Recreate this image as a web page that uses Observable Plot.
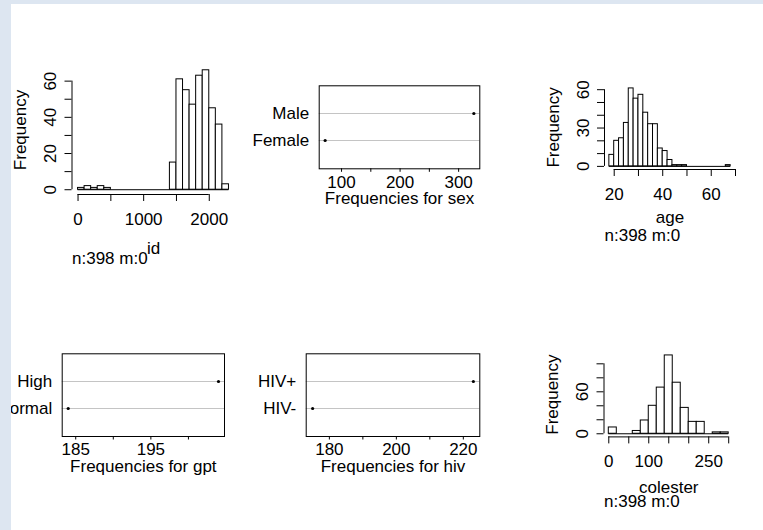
<!DOCTYPE html>
<html><head><meta charset="utf-8">
<script src="https://cdn.jsdelivr.net/npm/d3@7"></script>
<script src="https://cdn.jsdelivr.net/npm/@observablehq/plot@0.6"></script>
<style>
html,body{margin:0;padding:0;background:#fff;}
#wrap{position:relative;width:763px;height:530px;overflow:hidden;background:#fff;}
#wrap svg{position:absolute;left:0;top:0;}
.band{position:absolute;background:#dde6f1;z-index:10;}
</style></head><body>
<div id="wrap">
<div class="band" style="left:0;top:0;width:763px;height:4px"></div>
<div class="band" style="left:0;top:0;width:11px;height:530px"></div>
</div>
<script>
// ---------- data ----------
const idBreaks = [0,100,200,300,400,500,600,700,800,900,1000,1100,1200,1300,1400,1500,1600,1700,1800,1900,2000,2100,2200,2300];
const idCounts = [1,2,1,2,1,0,0,0,0,0,0,0,0,0,15,61,55,47,63,66,45,36,3];
const idXTicks = [0,500,1000,1500,2000];
const idXLabels = [0,1000,2000];
const idYTicks = [0,10,20,30,40,50,60];
const idYLabels = [0,20,40,60];

const ageBreaks = [18,20,22,24,26,28,30,32,34,36,38,40,42,44,46,48,50,52,54,56,58,60,62,64,66,68];
const ageCounts = [9,20,22,34,61,53,56,42,33,33,14,12,5,1,1,1,0,0,0,0,0,0,0,0,1];
const ageXTicks = [20,30,40,50,60,70];
const ageXLabels = [20,40,60];
const ageYTicks = [0,10,20,30,40,50,60];
const ageYLabels = [0,30,60];

const colBreaks = [0,20,40,60,80,100,120,140,160,180,200,220,240,260,280,300];
const colCounts = [9,0,0,4,19,40,66,112,73,37,17,17,0,2,2];
const colXTicks = [0,50,100,150,200,250,300];
const colXLabels = [0,100,250];
const colYTicks = [0,20,40,60,80,100];
const colYLabels = [0,60];

const sexLevels = ["Male","Female"];
const sexCounts = [326,72];
const sexTicks = [100,150,200,250,300];
const sexLabels = [100,200,300];

const gptLevels = ["High","Normal"];
const gptCounts = [204,184];
const gptTicks = [185,190,195,200];
const gptLabels = [185,195];

const hivLevels = ["HIV+","HIV-"];
const hivCounts = [223,175];
const hivTicks = [180,190,200,210,220];
const hivLabels = [180,200,220];

const nText = "n:398 m:0";

// ---------- drawing ----------
const W = 763, H = 530;
const STYLE = {fontFamily: '"Liberation Sans", Arial, sans-serif', fontSize: "17px", background: "transparent", color: "black", overflow: "visible"};
function ext(lo, hi){ const d = (hi - lo) * 0.04; return [lo - d, hi + d]; }

function histPanel(p){
  const bins = p.counts.map((c, i) => ({x1: p.breaks[i], x2: p.breaks[i + 1], y0: 0, c}));
  const xd = ext(p.breaks[0], p.breaks[p.breaks.length - 1]);
  const yd = ext(0, d3.max(p.counts));
  return Plot.plot({
    width: W, height: H,
    marginLeft: p.left, marginRight: W - p.right, marginTop: p.top, marginBottom: H - p.bottom,
    style: STYLE,
    x: {domain: xd, axis: null, label: null},
    y: {domain: yd, axis: null, label: null},
    marks: [
      Plot.rect(bins, {x1: "x1", x2: "x2", y1: "y0", y2: "c", fill: "white", stroke: "black", inset: 0}),
      Plot.ruleY([0], {x1: () => p.breaks[0], x2: () => p.breaks[p.breaks.length - 1], stroke: "black"}),
      Plot.ruleY([yd[0]], {x1: () => p.xTicks[0], x2: () => p.xTicks[p.xTicks.length - 1], stroke: "black"}),
      Plot.ruleX([xd[0]], {y1: () => p.yTicks[0], y2: () => p.yTicks[p.yTicks.length - 1], stroke: "black"}),
      Plot.axisX(p.xTicks, {tickSize: 7, tickPadding: 11, label: null, tickFormat: d => p.xLabels.includes(d) ? String(d) : ""}),
      Plot.axisY(p.yTicks, {tickSize: 7, label: null, tickFormat: () => ""}),
      Plot.text(p.yLabels, {y: d => d, text: d => String(d), frameAnchor: "left", rotate: -90, dx: -16, lineAnchor: "bottom", textAnchor: "middle"}),
      Plot.text(["Frequency"], {frameAnchor: "left", rotate: -90, dx: -46, lineAnchor: "bottom", textAnchor: "middle"}),
      Plot.text([p.xlab], {frameAnchor: "bottom", dy: p.labDy, lineAnchor: "bottom"}),
      Plot.text([nText], {frameAnchor: "bottom-left", textAnchor: "start", dy: p.nDy, lineAnchor: "bottom"})
    ]
  });
}

function dotPanel(p){
  const data = p.levels.map((k, i) => ({k, v: p.counts[i]}));
  const xd = ext(d3.min(p.counts), d3.max(p.counts));
  return Plot.plot({
    width: W, height: H,
    marginLeft: p.left, marginRight: W - p.right, marginTop: p.top, marginBottom: H - p.bottom,
    style: STYLE,
    x: {domain: xd, axis: null, label: null},
    y: {type: "point", domain: p.levels, padding: 1, axis: null, label: null},
    marks: [
      Plot.ruleY(data, {y: "k", stroke: "#c4c4c4"}),
      Plot.frame({stroke: "black"}),
      Plot.dot(data, {x: "v", y: "k", r: 1.6, fill: "black", stroke: null}),
      Plot.axisY({tickSize: 0, tickPadding: 10, label: null}),
      Plot.axisX(p.ticks, {tickSize: 3.5, tickPadding: 3.2, label: null, tickFormat: d => p.labels.includes(d) ? String(d) : ""}),
      Plot.text([p.title], {frameAnchor: "bottom", dy: 35, lineAnchor: "bottom"})
    ]
  });
}

const wrap = document.getElementById("wrap");
const panels = [
  histPanel({breaks: idBreaks, counts: idCounts, xTicks: idXTicks, xLabels: idXLabels, yTicks: idYTicks, yLabels: idYLabels,
    xlab: "id", left: 71.5, right: 234.5, top: 65, bottom: 194, labDy: 59, nDy: 69}),
  histPanel({breaks: ageBreaks, counts: ageCounts, xTicks: ageXTicks, xLabels: ageXLabels, yTicks: ageYTicks, yLabels: ageYLabels,
    xlab: "age", left: 604, right: 735, top: 84.8, bottom: 169, labDy: 53, nDy: 71}),
  histPanel({breaks: colBreaks, counts: colCounts, xTicks: colXTicks, xLabels: colXLabels, yTicks: colYTicks, yLabels: colYLabels,
    xlab: "colester", left: 603.5, right: 733, top: 351.8, bottom: 436.4, labDy: 56, nDy: 70}),
  dotPanel({levels: sexLevels, counts: sexCounts, ticks: sexTicks, labels: sexLabels, title: "Frequencies for sex",
    left: 318.7, right: 479.3, top: 85.3, bottom: 168.3}),
  dotPanel({levels: gptLevels, counts: gptCounts, ticks: gptTicks, labels: gptLabels, title: "Frequencies for gpt",
    left: 61.7, right: 224, top: 353.3, bottom: 436}),
  dotPanel({levels: hivLevels, counts: hivCounts, ticks: hivTicks, labels: hivLabels, title: "Frequencies for hiv",
    left: 305.7, right: 479.3, top: 353.3, bottom: 436})
];
const firstBand = wrap.querySelector(".band");
for (const svg of panels) wrap.insertBefore(svg, firstBand);
</script>
</body></html>
